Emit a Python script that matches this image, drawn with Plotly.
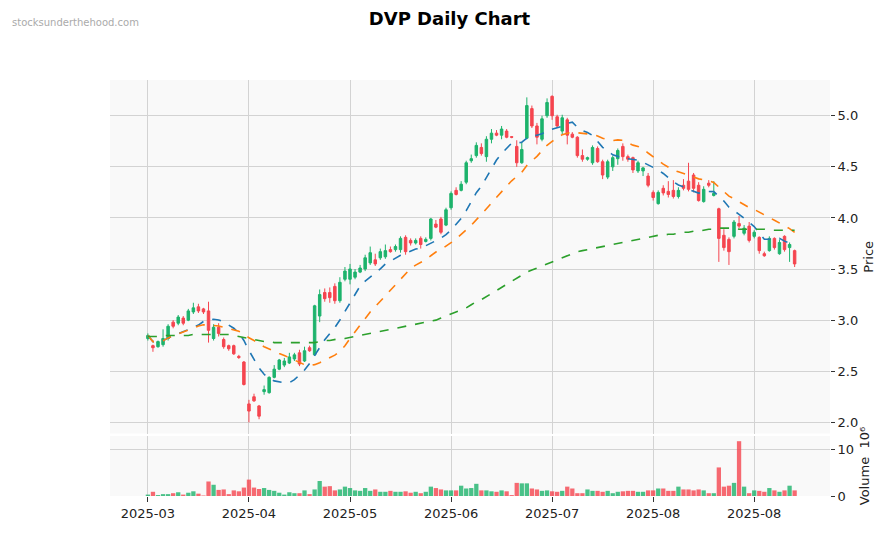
import plotly.graph_objects as go
from plotly.subplots import make_subplots
import pandas as pd

opens = [2.82,2.75,2.74,2.76,2.82,2.98,2.97,3.02,3.00,3.08,3.13,3.11,3.09,2.82,2.93,2.81,2.75,2.75,2.645,2.59,2.18,2.25,2.16,2.30,2.29,2.44,2.52,2.56,2.58,2.62,2.68,2.60,2.73,2.66,3.04,3.27,3.27,3.33,3.19,
 3.40,3.40,3.42,3.47,3.50,3.56,3.59,3.61,3.62,3.69,3.69,3.69,3.81,3.78,3.755,3.80,3.77,3.80,3.94,3.99,3.93,4.10,4.27,4.27,4.35,4.56,4.61,4.69,4.60,4.77,4.83,4.81,4.85,4.795,4.70,4.54,4.78,5.07,4.90,4.77,5.00,5.19,4.99,4.85,4.96,
 4.82,4.79,4.61,4.575,4.54,4.68,4.55,4.40,4.50,4.58,4.70,4.60,4.59,4.46,4.46,4.41,4.25,4.14,4.29,4.26,4.27,4.21,4.32,4.36,4.42,4.32,4.16,4.34,4.22,4.09,3.83,3.79,3.82,3.945,3.85,3.92,3.82,3.81,3.65,3.68,3.80,3.65,3.82,3.71,3.68]
closes = [2.85,2.73,2.79,2.82,2.94,2.94,3.03,2.97,3.09,3.12,3.09,3.08,2.90,2.93,2.87,2.74,2.72,2.67,2.635,2.37,2.11,2.21,2.06,2.32,2.44,2.52,2.61,2.60,2.64,2.66,2.57,2.70,2.70,3.14,3.25,3.21,3.22,3.19,3.37,
 3.48,3.50,3.47,3.51,3.61,3.66,3.55,3.67,3.68,3.67,3.72,3.80,3.67,3.755,3.78,3.74,3.79,3.99,3.91,3.86,4.08,4.24,4.23,4.33,4.54,4.58,4.71,4.63,4.77,4.83,4.81,4.87,4.79,4.79,4.54,4.67,5.10,4.90,4.79,4.97,5.13,5.00,4.90,4.98,4.81,
 4.79,4.61,4.575,4.59,4.69,4.55,4.42,4.55,4.59,4.66,4.60,4.575,4.47,4.54,4.49,4.32,4.20,4.25,4.245,4.23,4.21,4.27,4.29,4.28,4.29,4.17,4.28,4.32,4.24,3.80,3.71,3.67,3.96,3.92,3.90,3.78,3.86,3.68,3.63,3.80,3.71,3.76,3.69,3.74,3.55]
highs = [2.87,2.76,2.80,2.91,2.96,3.00,3.05,3.04,3.11,3.17,3.16,3.12,3.18,2.96,2.97,2.83,2.76,2.76,2.66,2.60,2.22,2.28,2.17,2.36,2.45,2.56,2.62,2.63,2.68,2.68,2.71,2.74,2.75,3.15,3.30,3.31,3.32,3.36,3.42,
 3.52,3.55,3.50,3.54,3.64,3.72,3.65,3.70,3.74,3.72,3.74,3.82,3.83,3.80,3.80,3.82,3.81,4.00,3.98,4.01,4.10,4.26,4.30,4.36,4.56,4.62,4.74,4.73,4.80,4.87,4.86,4.90,4.87,4.80,4.76,4.74,5.18,5.10,4.93,5.00,5.17,5.20,5.01,5.01,4.98,
 4.84,4.80,4.67,4.60,4.71,4.70,4.57,4.57,4.61,4.68,4.73,4.62,4.60,4.56,4.50,4.44,4.27,4.27,4.32,4.36,4.37,4.30,4.38,4.54,4.44,4.35,4.31,4.37,4.36,4.10,3.89,3.81,3.98,4.02,3.93,3.96,3.88,3.82,3.67,3.82,3.81,3.79,3.83,3.76,3.69]
lows = [2.80,2.69,2.73,2.74,2.80,2.92,2.95,2.95,2.99,3.06,3.07,3.06,2.78,2.80,2.84,2.72,2.70,2.66,2.62,2.36,2.00,2.20,2.03,2.27,2.28,2.43,2.51,2.54,2.57,2.60,2.55,2.59,2.69,2.65,2.98,3.18,3.17,3.16,3.17,
 3.38,3.35,3.40,3.46,3.48,3.54,3.53,3.59,3.60,3.66,3.67,3.66,3.64,3.73,3.74,3.70,3.76,3.78,3.90,3.84,3.92,4.08,4.22,4.26,4.33,4.54,4.59,4.61,4.55,4.73,4.80,4.77,4.78,4.78,4.50,4.53,4.77,4.88,4.72,4.75,4.98,4.96,4.88,4.82,4.72,
 4.78,4.59,4.55,4.56,4.52,4.54,4.38,4.38,4.46,4.52,4.56,4.55,4.44,4.44,4.41,4.30,4.17,4.13,4.22,4.20,4.19,4.19,4.27,4.26,4.25,4.16,4.15,4.30,4.21,3.57,3.68,3.54,3.80,3.90,3.83,3.76,3.80,3.65,3.62,3.67,3.69,3.64,3.67,3.57,3.52]
volumes = [0.3,0.9,0.2,0.4,0.4,0.6,0.8,0.3,0.7,1.0,0.5,0.1,3.1,2.4,1.3,1.4,0.4,1.2,1.0,1.8,3.5,1.8,1.5,1.7,1.3,1.1,0.7,0.3,0.8,0.6,0.6,1.2,0.4,1.4,3.2,2.0,2.1,1.2,1.4,
 2.0,1.7,1.2,1.1,1.7,1.1,1.4,0.9,0.9,1.1,0.9,0.9,1.0,0.7,0.9,0.6,0.9,2.0,1.7,1.4,1.2,1.2,1.2,2.2,1.6,1.7,2.6,1.2,1.2,1.0,0.9,1.2,1.0,0.2,2.8,2.7,2.7,1.6,1.4,1.1,1.2,1.0,0.9,1.1,2.0,
 1.6,0.6,0.6,1.4,1.1,1.1,0.9,1.1,0.6,0.9,1.0,1.1,1.1,0.9,0.9,1.2,1.2,1.6,1.6,1.1,1.1,2.0,1.4,1.4,1.2,1.4,1.2,0.6,0.6,6.1,2.0,2.2,2.8,11.7,2.0,0.6,1.2,1.1,0.9,1.7,1.2,0.9,1.2,2.2,1.2]
ma_long = [2.84,2.84,2.84,2.85,2.85,2.85,2.85,2.85,2.85,2.86,
 2.86,2.86,2.86,2.86,2.86,2.86,2.86,2.85,2.84,2.83,
 2.82,2.81,2.80,2.79,2.79,2.78,2.78,2.78,2.78,2.78,
 2.78,2.78,2.78,2.78,2.79,2.80,2.80,2.81,2.82,2.82,
 2.83,2.84,2.85,2.86,2.87,2.88,2.89,2.90,2.91,2.92,
 2.93,2.94,2.95,2.96,2.97,2.98,2.99,3.00,3.02,3.04,
 3.06,3.08,3.10,3.12,3.15,3.18,3.20,3.23,3.26,3.29,
 3.32,3.35,3.38,3.41,3.44,3.47,3.49,3.51,3.53,3.55,
 3.57,3.59,3.61,3.63,3.65,3.67,3.68,3.69,3.70,3.71,
 3.72,3.73,3.74,3.75,3.76,3.77,3.78,3.79,3.80,3.81,
 3.82,3.83,3.83,3.84,3.84,3.85,3.86,3.86,3.87,3.87,
 3.88,3.89,3.89,3.90,3.90,3.90,3.90,3.89,3.89,3.89,
 3.89,3.89,3.89,3.88,3.88,3.88,3.88,3.88,3.88]
tick_idx = [0, 20, 40, 60, 80, 100, 120]
tick_labels = ["2025-03","2025-04","2025-05","2025-06","2025-07","2025-08","2025-08"]

n = len(closes)
x = list(range(n))
cs = pd.Series(closes)
ma_short = cs.rolling(10, min_periods=1).mean()
ma_mid = cs.rolling(20, min_periods=1).mean()

GREEN, RED = "#1db36c", "#f5454f"
fig = make_subplots(rows=2, cols=1, shared_xaxes=True, vertical_spacing=0.006, row_heights=[0.855, 0.145])
fig.add_trace(go.Candlestick(x=x, open=opens, high=highs, low=lows, close=closes,
    increasing=dict(line=dict(color=GREEN, width=1), fillcolor=GREEN),
    decreasing=dict(line=dict(color=RED, width=1), fillcolor=RED),
    whiskerwidth=0, showlegend=False), row=1, col=1)
for s, c in [(ma_short, "#1f77b4"), (ma_mid, "#ff7f0e"), (ma_long, "#2ca02c")]:
    fig.add_trace(go.Scatter(x=x, y=list(s), mode="lines", line=dict(color=c, width=1.6, dash="dash"),
                             showlegend=False, hoverinfo="skip"), row=1, col=1)
vcol = ["rgba(29,179,108,0.8)" if c >= o else "rgba(245,69,79,0.8)" for o, c in zip(opens, closes)]
fig.add_trace(go.Bar(x=x, y=volumes, marker=dict(color=vcol, line=dict(width=0)), width=0.85, showlegend=False), row=2, col=1)

grid = "#d3d3d3"
fig.update_xaxes(range=[-7.5, 135], showgrid=True, gridcolor=grid, tickvals=tick_idx, ticktext=tick_labels,
                 rangeslider=dict(visible=False), zeroline=False, showline=False)
fig.update_xaxes(ticks="outside", ticklen=5, tickcolor="#333", row=2, col=1)
fig.update_yaxes(side="right", range=[1.89, 5.35], tickvals=[2.0,2.5,3.0,3.5,4.0,4.5,5.0], tickformat=".1f",
                 gridcolor=grid, zeroline=False, ticks="outside", ticklen=4, tickcolor="#333",
                 title=dict(text="Price", standoff=6, font=dict(size=13)), row=1, col=1)
fig.update_yaxes(side="right", range=[0, 12.8], tickvals=[0, 10], gridcolor=grid, zeroline=False,
                 ticks="outside", ticklen=4, tickcolor="#333",
                 title=dict(text="Volume  10⁶", standoff=6, font=dict(size=13)), row=2, col=1)
fig.update_layout(width=883, height=525, margin=dict(l=102, r=61, t=72, b=34),
    paper_bgcolor="white", plot_bgcolor="#f9f9f9",
    font=dict(family="DejaVu Sans", size=13, color="#222"),
    title=dict(text="<b>DVP Daily Chart</b>", x=0.5, xanchor="center", y=0.979, yanchor="middle",
               font=dict(size=18, color="black")),
    annotations=[dict(text="stocksunderthehood.com", xref="paper", yref="paper", x=-0.139, y=1.138,
                      xanchor="left", yanchor="middle", showarrow=False, font=dict(size=10, color="#aaaaaa"))],
    bargap=0.1)
fig.write_html("out.html")
